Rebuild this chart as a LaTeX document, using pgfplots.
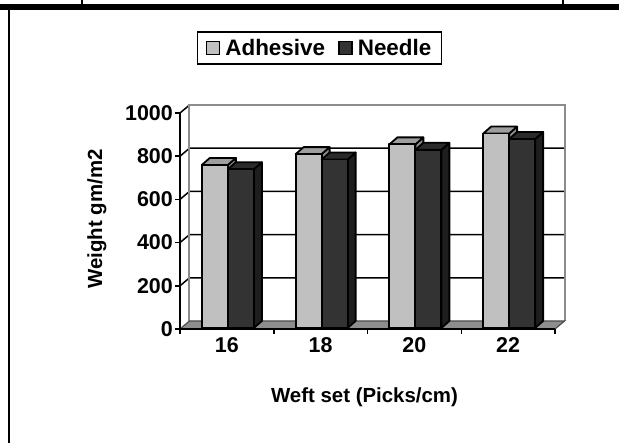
\documentclass[border=0pt]{standalone}
\usepackage{fontspec}
\setmainfont{Liberation Sans}
\usepackage{pgfplots}
\usepackage{pgfplotstable}
\pgfplotsset{compat=1.18}

\definecolor{adhfront}{HTML}{C0C0C0}
\definecolor{adhtop}{HTML}{9E9E9E}
\definecolor{adhside}{HTML}{8A8A8A}
\definecolor{ndlfront}{HTML}{333333}
\definecolor{ndltop}{HTML}{2A2A2A}
\definecolor{ndlside}{HTML}{1E1E1E}
\definecolor{wallgray}{HTML}{8C8C8C}
\definecolor{floorgray}{HTML}{8E8E8E}

% fabric weight for each weft set
\pgfplotstableread{
weft adhesive needle
16 755 735
18 805 780
20 850 825
22 900 875
}\weightdata

% sizes of the 3-D effect in axis units
% (one category = 93.75bp wide, 1000 units = 216bp high)
\def\pxx{0.0106667}
\def\pxy{4.62963}
\pgfmathsetmacro\bw{26*\pxx}
\pgfmathsetmacro\ox{1*\pxx}
\pgfmathsetmacro\oy{1*\pxy}
\pgfmathsetmacro\bdx{8*\pxx}
\pgfmathsetmacro\bdy{7*\pxy}
\pgfmathsetmacro\wdx{9.5*\pxx}
\pgfmathsetmacro\wdy{8*\pxy}
\pgfmathsetmacro\wl{-0.5+\wdx}
\pgfmathsetmacro\wr{3.5+\wdx}

\tikzset{boxface/.style={draw=black, line width=1.8bp, line join=round}}

% one column drawn as a box: #1 category, #2 slot (-1 or 0), #3 value,
% #4 front colour, #5 top colour, #6 side colour
\newcommand\columnbox[6]{%
  \pgfmathsetmacro\xa{#1+#2*\bw+\ox}%
  \pgfmathsetmacro\xb{\xa+\bw}%
  \pgfmathsetmacro\ya{\oy}%
  \pgfmathsetmacro\yb{#3+\oy}%
  \pgfmathsetmacro\xc{\xa+\bdx}%
  \pgfmathsetmacro\xd{\xb+\bdx}%
  \pgfmathsetmacro\yc{\ya+\bdy}%
  \pgfmathsetmacro\yd{\yb+\bdy}%
  \edef\next{%
    \noexpand\addplot[boxface, fill=#6] coordinates {(\xb,\ya) (\xd,\yc) (\xd,\yd) (\xb,\yb)} -- cycle;
    \noexpand\addplot[boxface, fill=#5] coordinates {(\xa,\yb) (\xb,\yb) (\xd,\yd) (\xc,\yd)} -- cycle;
    \noexpand\addplot[boxface, fill=#4] coordinates {(\xa,\ya) (\xb,\ya) (\xb,\yb) (\xa,\yb)} -- cycle;
  }\next
}

\begin{document}
\begin{tikzpicture}
\path[use as bounding box] (0,0) rectangle (619bp,443bp);

\begin{axis}[
  at={(180bp,114bp)}, anchor=south west,
  scale only axis, width=375bp, height=216bp,
  xmin=-0.5, xmax=3.5, ymin=0, ymax=1000,
  clip=false, axis on top,
  axis x line*=bottom, axis y line*=left,
  axis line style={black, line width=1.5bp},
  tick align=outside, major tick length=5bp,
  tick style={black, line width=1.5bp},
  xtick={-0.5,0.5,1.5,2.5,3.5}, xticklabels={16,18,20,22,{}},
  xticklabel style={xshift=46.875bp},
  ytick={0,200,400,600,800,1000}, yticklabels={0,200,400,600,800,1000},
  yticklabel style={inner xsep=2bp},
  /pgf/number format/assume math mode=true,
  tick label style={font=\fontsize{21.5}{24}\selectfont\bfseries},
  xlabel={Weft set (Picks/cm)}, ylabel={Weight gm/m2},
  label style={font=\fontsize{20.5}{24}\selectfont\bfseries},
  xlabel style={at={(axis description cs:0.492,-0.3148)}, anchor=center},
  ylabel style={at={(axis description cs:-0.2213,0.509)}, anchor=center},
  legend columns=2,
  legend style={at={(axis description cs:0.372,1.301)}, anchor=center,
    draw=black, line width=1.5bp, fill=white,
    font=\fontsize{22.5}{24}\selectfont\bfseries,
    inner xsep=8bp, inner ysep=5bp,
    /tikz/every even column/.append style={column sep=11bp}},
  legend image code/.code={%
    \draw[#1, line width=1.5bp] (0bp,-6.5bp) rectangle (13bp,6.5bp);
    \path[draw=none, fill=none] (13bp,0bp) -- (17bp,0bp);},
]
\addlegendimage{fill=adhfront, draw=black}
\addlegendentry{Adhesive}
\addlegendimage{fill=ndlfront, draw=black}
\addlegendentry{Needle}

% grid lines on the left and back walls
\pgfplotsforeachungrouped \v in {200,400,600,800}{%
  \pgfmathsetmacro\vb{\v+\wdy}%
  \edef\next{\noexpand\addplot[black, line width=1.5bp] coordinates {(-0.5,\v) (\wl,\vb) (\wr,\vb)};}\next
}
\pgfmathsetmacro\vtop{1000+\wdy}
\edef\next{\noexpand\addplot[black, line width=1.5bp] coordinates {(-0.5,1000) (\wl,\vtop)};}\next
\edef\next{\noexpand\addplot[wallgray, line width=2bp] coordinates {(\wl,\wdy) (\wl,\vtop) (\wr,\vtop) (\wr,\wdy)};}\next

% floor
\edef\next{\noexpand\addplot[fill=floorgray, draw=black!70, line width=1.2bp] coordinates {(-0.5,0) (3.5,0) (\wr,\wdy) (\wl,\wdy)} -- cycle;}\next

% columns
\pgfplotsforeachungrouped \i in {0,1,2,3}{%
  \pgfplotstablegetelem{\i}{adhesive}\of\weightdata
  \let\va\pgfplotsretval
  \pgfplotstablegetelem{\i}{needle}\of\weightdata
  \let\vn\pgfplotsretval
  \columnbox{\i}{-1}{\va}{adhfront}{adhtop}{adhside}%
  \columnbox{\i}{0}{\vn}{ndlfront}{ndltop}{ndlside}%
}
\end{axis}

% surrounding table rules
\fill[black] (0bp,433bp) rectangle (619bp,438.5bp);
\draw[black, line width=1.5bp] (82bp,438.5bp) -- (82bp,443bp);
\draw[black, line width=1.5bp] (563bp,438.5bp) -- (563bp,443bp);
\draw[black, line width=2bp] (8.5bp,0bp) -- (8.5bp,433bp);
\end{tikzpicture}
\end{document}
